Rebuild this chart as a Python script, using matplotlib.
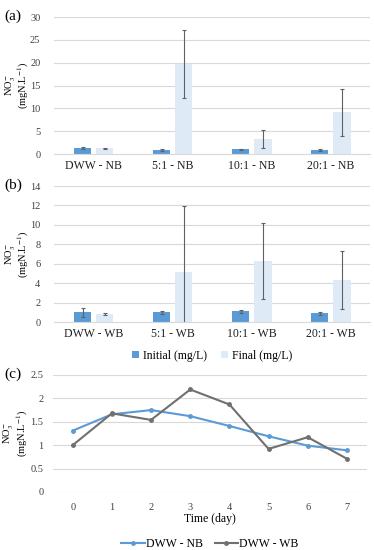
import matplotlib.pyplot as plt
import numpy as np

plt.rcParams["font.family"] = ["Liberation Serif", "DejaVu Serif"]
plt.rcParams["mathtext.fontset"] = "stix"

# ---- data ----
cats_nb = ["DWW - NB", "5:1 - NB", "10:1 - NB", "20:1 - NB"]
init_nb = [1.25, 0.85, 1.05, 0.95]
init_nb_err = [0.2, 0.2, 0.1, 0.2]
final_nb = [1.3, 19.7, 3.25, 9.1]
final_nb_err = [0.1, 7.5, 1.95, 5.2]

cats_wb = ["DWW - WB", "5:1 - WB", "10:1 - WB", "20:1 - WB"]
init_wb = [1.0, 1.0, 1.12, 0.92]
init_wb_err = [0.45, 0.15, 0.15, 0.15]
final_wb = [0.8, 5.2, 6.3, 4.3]
final_wb_err = [0.12, 6.7, 3.9, 3.0]

days = [0, 1, 2, 3, 4, 5, 6, 7]
dww_nb = [1.31, 1.66, 1.75, 1.62, 1.41, 1.19, 0.99, 0.89]
dww_wb = [1.0, 1.68, 1.54, 2.19, 1.87, 0.92, 1.17, 0.71]

BLUE = "#5B9BD5"
LIGHT = "#DEEBF7"
GRAY = "#707070"
GRID = "#D9D9D9"
YLAB = "NO$_3^{-}$\n(mgN.L$^{-1}$)"


def style_axes(ax):
    for s in ["top", "right", "left"]:
        ax.spines[s].set_visible(False)
    ax.spines["bottom"].set_color(GRID)
    ax.grid(axis="y", color=GRID, lw=0.8)
    ax.set_axisbelow(True)
    ax.tick_params(length=0, labelsize=7.5, colors="#404040", pad=6)


def bar_panel(ax, cats, init, init_err, final, final_err, ymax, step):
    x = np.arange(len(cats))
    ekw = dict(ecolor="#606060", elinewidth=0.8, capsize=1.5, capthick=0.8)
    ax.bar(x - 0.14, init, 0.22, color=BLUE, yerr=init_err, error_kw=ekw,
           label="Initial (mg/L)")
    ax.bar(x + 0.14, final, 0.22, color=LIGHT, yerr=final_err, error_kw=ekw,
           label="Final (mg/L)")
    ax.set_xlim(-0.5, len(cats) - 0.5)
    ax.set_ylim(0, ymax)
    ax.set_yticks(np.arange(0, ymax + 0.1, step))
    ax.set_xticks(x)
    ax.set_xticklabels(cats)
    style_axes(ax)
    ax.tick_params(axis="y", pad=10)
    ax.tick_params(axis="x", labelsize=8.5, colors="#202020", pad=4)
    ax.set_ylabel(YLAB, fontsize=7.5, linespacing=0.95)
    ax.yaxis.set_label_coords(-0.072, 0.5)


fig = plt.figure(figsize=(3.74, 5.5), dpi=100)

ax1 = fig.add_axes([0.145, 0.72, 0.845, 0.249])
bar_panel(ax1, cats_nb, init_nb, init_nb_err, final_nb, final_nb_err, 30, 5)

ax2 = fig.add_axes([0.145, 0.4145, 0.845, 0.2473])
bar_panel(ax2, cats_wb, init_wb, init_wb_err, final_wb, final_wb_err, 14, 2)
ax2.legend(loc="upper center", bbox_to_anchor=(0.5, -0.125), ncol=2,
           frameon=False, fontsize=8.5, handlelength=0.6, handleheight=0.6,
           handletextpad=0.3, columnspacing=1.2)

ax3 = fig.add_axes([0.142, 0.1055, 0.838, 0.2127])
ax3.plot(days, dww_nb, color=BLUE, lw=1.5, marker="o", ms=2.5,
         label="DWW - NB")
ax3.plot(days, dww_wb, color=GRAY, lw=1.5, marker="o", ms=2.5,
         label="DWW - WB")
ax3.set_xlim(-0.5, 7.5)
ax3.set_ylim(0, 2.5)
ax3.set_yticks([0, 0.5, 1, 1.5, 2, 2.5])
ax3.set_yticklabels(["0", "0.5", "1", "1.5", "2", "2.5"])
ax3.set_xticks(days)
style_axes(ax3)
ax3.spines["bottom"].set_visible(False)
ax3.tick_params(axis="y", pad=7)
ax3.tick_params(axis="x", pad=8)
ax3.set_xlabel("Time (day)", fontsize=8.5, labelpad=1)
ax3.set_ylabel(YLAB, fontsize=7.5, linespacing=0.95)
ax3.yaxis.set_label_coords(-0.075, 0.5)
ax3.legend(loc="upper center", bbox_to_anchor=(0.5, -0.3), ncol=2,
           frameon=False, fontsize=8.5, handlelength=2.0,
           handletextpad=0.1, columnspacing=1.0)

for ax, lab in [(ax1, "(a)"), (ax2, "(b)"), (ax3, "(c)")]:
    fig.text(0.012, ax.get_position().y1 + 0.002, lab, fontsize=11,
             va="center", ha="left")

fig.savefig("out.png", dpi=100)
plt.close(fig)
